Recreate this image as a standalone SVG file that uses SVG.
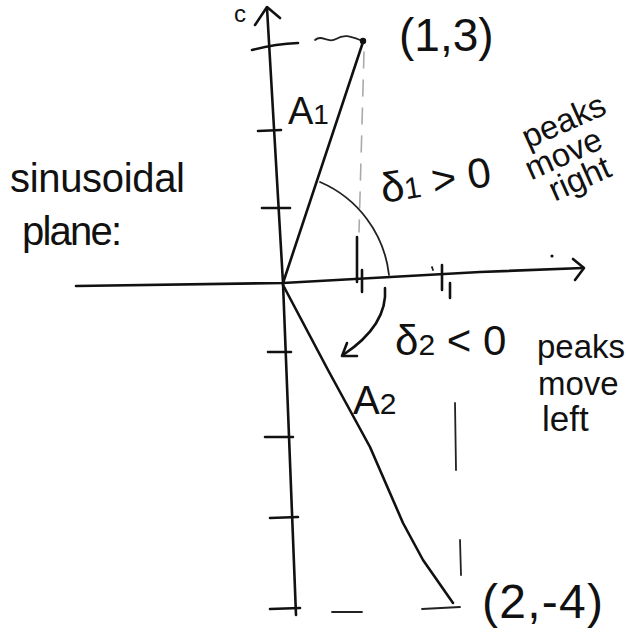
<svg xmlns="http://www.w3.org/2000/svg" width="626" height="633" viewBox="0 0 626 633">
<style>
.ink{fill:none;stroke:#111;stroke-width:2.6;stroke-linecap:round;stroke-linejoin:round}
.thin{fill:none;stroke:#222;stroke-width:1.8;stroke-linecap:round;stroke-linejoin:round}
.faint{fill:none;stroke:#aaa;stroke-width:1.6;stroke-linecap:round;stroke-dasharray:16 12}
.t{font-family:"Liberation Sans","DejaVu Sans",sans-serif;fill:#111}
</style>
<rect width="626" height="633" fill="#fff"/>
<g id="axes">
<path class="ink" d="M267,8 L283,283 L296,615"/>
<path class="ink" d="M255,25 L267,7 L280,18"/>
<path class="ink" d="M76,286 L283,283 L480,272 L583,268"/>
<path class="ink" d="M573,259 L584,268 L575,280"/>
<path class="ink" d="M252,50 Q275,44 298,43 M258,131 L281,130 M262,208 L290,208 M268,352 L291,352 M265,437 L293,437 M270,518 L298,517 M270,609 L300,608"/>
<path class="ink" d="M357,237 L357,282 M362,270 L362,292 M442,265 L442,290 M450,283 L450,298"/>
<path class="thin" d="M432,267 L433,270"/>
<circle cx="552" cy="256" r="1.6" fill="#111"/>
<text class="t" x="234" y="22" font-size="24">c</text>
</g>
<g id="guides">
<path class="thin" d="M315,40 C322,34 328,44 336,39 S350,36 360,40"/>
<path class="faint" d="M364,52 L359,232"/>
<path class="thin" d="M455,403 L456,470 M460,540 L461,575"/>
<path class="thin" d="M332,612 L362,612 M422,609 L460,607"/>
</g>
<g id="point-1-3">
<circle cx="363" cy="41" r="3.2" fill="#111"/>
<text class="t" x="399" y="51" font-size="46">(1,3)</text>
</g>
<g id="point-2-m4">
<text class="t" x="482" y="618" font-size="48" textLength="121">(2,-4)</text>
</g>
<g id="label-plane">
<text class="t" x="10" y="192" font-size="40" textLength="175">sinusoidal</text>
<text class="t" x="22" y="245" font-size="40" textLength="100">plane:</text>
</g>
<g id="label-A1"><text class="t" x="288" y="124" font-size="38">A<tspan font-size="28">1</tspan></text></g>
<g id="label-A2"><text class="t" x="353" y="414" font-size="40">A<tspan font-size="30">2</tspan></text></g>
<g id="label-d1"><text class="t" x="383" y="203" font-size="42" transform="rotate(-9 383 203)">δ<tspan font-size="30">1</tspan> &gt; 0</text></g>
<g id="label-d2"><text class="t" x="395" y="355" font-size="42">δ<tspan font-size="30">2</tspan> &lt; 0</text></g>
<g id="note-right" transform="translate(528,149) rotate(-24)">
<text class="t" x="0" y="0" font-size="33">peaks</text>
<text class="t" x="-10" y="30" font-size="33">move</text>
<text class="t" x="3" y="59" font-size="33">right</text>
</g>
<g id="note-left">
<text class="t" x="537" y="358" font-size="33">peaks</text>
<text class="t" x="538" y="395" font-size="33">move</text>
<text class="t" x="542" y="431" font-size="35">left</text>
</g>
<g id="connectors">
<path class="ink" d="M283,283 L363,42"/>
<path class="ink" d="M283,285 L328,370 L370,447 L403,523 L423,560 L453,603"/>
<path class="thin" d="M320,182 A115,115 0 0 1 389,275"/>
<path class="ink" d="M385,288 Q388,325 343,355"/>
<path class="ink" d="M347,343 L342,356 L357,356"/>
</g>
</svg>
